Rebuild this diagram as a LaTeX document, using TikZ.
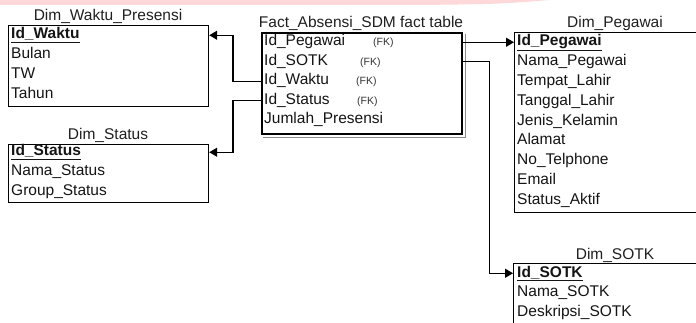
\documentclass[tikz,border=0pt]{standalone}
\usepackage{fontspec}
\setmainfont{Liberation Sans}
\usetikzlibrary{arrows.meta}
\begin{document}
\begin{tikzpicture}[x=1pt,y=-1pt,
	tbl/.style={draw,line width=1.2pt,anchor=north west,inner sep=0pt},
	fld/.style={anchor=base west,inner sep=0pt,text height=11pt,text depth=3.5pt,font=\fontsize{15.5}{18}\selectfont,text=black!92},
	ttl/.style={anchor=base,inner sep=0pt,font=\fontsize{15.5}{18}\selectfont,text=black!88},
	fk/.style={anchor=base west,inner sep=0pt,font=\fontsize{10.5}{12}\selectfont,text=black!80},
	link/.style={line width=1.3pt,-{Triangle[length=8pt,width=9pt]}}]
	\useasboundingbox (0,0) rectangle (696,323);
	\clip (0,0) rectangle (696,323);
	
	%Pink band on top
	\fill[red!15] (0,0) -- (550,0) .. controls (500,4) .. (420,5) -- (0,5) -- cycle;
	
	%Dim_Waktu_Presensi
	\node[ttl] (waktut) at (108,21) {Dim\_Waktu\_Presensi};
	\node[tbl,minimum width=200pt,minimum height=81pt] (waktu) at (8,25) {};
	\node[fld] (w1) at (11,39) {\textbf{\underline{Id\_Waktu}}};
	\foreach \t [count=\i from 2] in {Bulan,TW,Tahun}
	\node[fld] (w\i) at (11,39+19.7*\i-19.7) {\t};
	
	%Dim_Status
	\node[ttl] (statust) at (108,140) {Dim\_Status};
	\node[tbl,minimum width=200pt,minimum height=58pt] (status) at (8,144) {};
	\node[fld] (t1) at (11,156) {\textbf{\underline{Id\_Status}}};
	\foreach \t [count=\i from 2] in {Nama\_Status,Group\_Status}
	\node[fld] (t\i) at (11,156+19.7*\i-19.7) {\t};
	
	%Fact table
	\node[ttl] (factt) at (361,28) {Fact\_Absensi\_SDM fact table};
	\node[tbl,line width=2.2pt,minimum width=200pt,minimum height=101pt] (fact) at (261,32) {};
	\draw[black!45,line width=1pt] ([shift={(2.2,2.2)}]fact.north east) -- ([shift={(2.2,2.2)}]fact.south east) -- ([shift={(2.2,2.2)}]fact.south west);
	\foreach \t [count=\i] in {Id\_Pegawai,Id\_SOTK,Id\_Waktu,Id\_Status,Jumlah\_Presensi}
	\node[fld] (f\i) at (264,46+19.5*\i-19.5) {\t};
	\node[fk] (fk1) at (373,46) {(FK)};
	\node[fk] (fk2) at (360,65.5) {(FK)};
	\node[fk] (fk3) at (356,85) {(FK)};
	\node[fk] (fk4) at (357,104.5) {(FK)};
	
	%Dim_Pegawai
	\node[ttl] (pegawait) at (615,28) {Dim\_Pegawai};
	\node[tbl,minimum width=220pt,minimum height=180pt] (pegawai) at (514,32) {};
	\node[fld] (p1) at (517,46) {\textbf{\underline{Id\_Pegawai}}};
	\foreach \t [count=\i from 2] in {Nama\_Pegawai,Tempat\_Lahir,Tanggal\_Lahir,Jenis\_Kelamin,Alamat,No\_Telphone,Email,Status\_Aktif}
	\node[fld] (p\i) at (517,46+19.8*\i-19.8) {\t};
	
	%Dim_SOTK
	\node[ttl] (sotkt) at (615,259) {Dim\_SOTK};
	\node[tbl,minimum width=220pt,minimum height=90pt] (sotk) at (513,263) {};
	\node[fld] (s1) at (517,277) {\textbf{\underline{Id\_SOTK}}};
	\foreach \t [count=\i from 2] in {Nama\_SOTK,Deskripsi\_SOTK}
	\node[fld] (s\i) at (517,277+19.5*\i-19.5) {\t};
	
	%Relations
	\draw[link] (fact.west |- f3) -- ++(-28,0) |- (waktu.east |- w1);
	\draw[link] (fact.west |- f4) -- ++(-28,0) |- (status.east |- t1);
	\draw[link] (fact.east |- f1) -- (pegawai.west |- p1);
	\draw[link] (fact.east |- f2) -- ++(26,0) |- (sotk.west |- s1);
\end{tikzpicture}
\end{document}
